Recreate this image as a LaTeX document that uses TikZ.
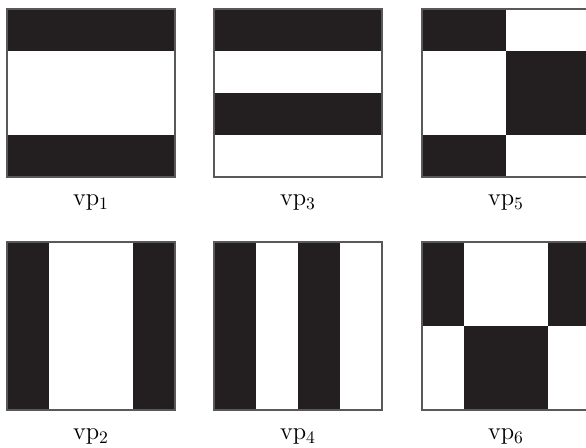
\documentclass[tikz,border=0pt]{standalone}
\usepackage{tikz}
\definecolor{bandcol}{HTML}{231F20}

\begin{document}
\begin{tikzpicture}[x=0.02cm, y=-0.02cm,
  every node/.style={font=\fontsize{14}{16}\selectfont, anchor=base},
  panelframe/.style={draw=black!65, line width=0.6pt},
  dark/.style={fill=bandcol}]
\clip (0,0) rectangle (586,448);
% vp1
\fill[dark] (7,9) rectangle (175,51);
\fill[dark] (7,135) rectangle (175,177);
\draw[panelframe] (7,9) rectangle (175,177);
% vp3
\fill[dark] (214,9) rectangle (382,51);
\fill[dark] (214,93) rectangle (382,135);
\draw[panelframe] (214,9) rectangle (382,177);
% vp5
\fill[dark] (422,9) rectangle (506,51);
\fill[dark] (506,51) rectangle (590,135);
\fill[dark] (422,135) rectangle (506,177);
\draw[panelframe] (422,9) rectangle (590,177);
% vp2
\fill[dark] (7,242) rectangle (49,410);
\fill[dark] (133,242) rectangle (175,410);
\draw[panelframe] (7,242) rectangle (175,410);
% vp4
\fill[dark] (214,242) rectangle (256,410);
\fill[dark] (298,242) rectangle (340,410);
\draw[panelframe] (214,242) rectangle (382,410);
% vp6
\fill[dark] (422,242) rectangle (464,326);
\fill[dark] (548,242) rectangle (590,326);
\fill[dark] (464,326) rectangle (548,410);
\draw[panelframe] (422,242) rectangle (590,410);
% labels
\node (vp1) at (91,206) {vp$_1$};
\node (vp3) at (298,206) {vp$_3$};
\node (vp5) at (506,206) {vp$_5$};
\node (vp2) at (91,440) {vp$_2$};
\node (vp4) at (298,440) {vp$_4$};
\node (vp6) at (506,440) {vp$_6$};
\end{tikzpicture}
\end{document}
